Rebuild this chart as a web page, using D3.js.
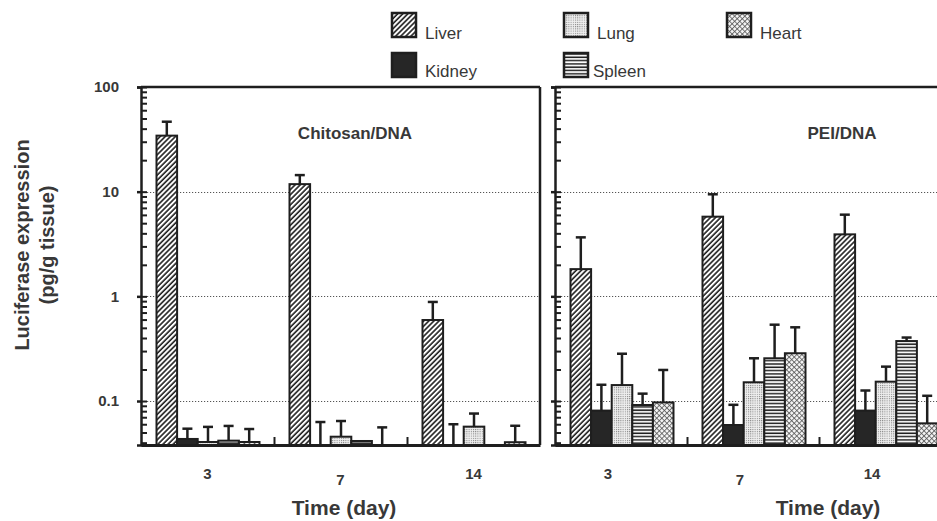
<!DOCTYPE html>
<html lang="en">
<head>
<meta charset="UTF-8">
<title>Luciferase expression</title>
<script src="https://d3js.org/d3.v7.min.js"></script>
<style>
    body { margin: 0; background: #fff; }
    text { font-family: "Liberation Sans", Arial, sans-serif; fill: #383838; }
    .grid { stroke: #555; stroke-dasharray: 1.2, 1.8; stroke-width: 1; }
</style>
</head>
<body>
<div id="graph"></div>
<script>
// ---- data (pg/g tissue), organ order: Liver, Kidney, Lung, Spleen, Heart ----
const days = ["3", "7", "14"];
const organs = ["Liver", "Kidney", "Lung", "Spleen", "Heart"];
const legendRow1 = ["Liver", "Lung", "Heart"];
const legendRow2 = ["Kidney", "Spleen"];
const majorTicks = [0.1, 1, 10, 100];

// Chitosan/DNA
const chiDay3 = [34.3, 0.0434, 0.0406, 0.0418, 0.0406];
const chiDay3Sd = [12.3, 0.011, 0.016, 0.016, 0.0134];
const chiDay7 = [11.8, 0.03, 0.0456, 0.0415, 0.03];
const chiDay7Sd = [2.6, 0.033, 0.0188, 0, 0.026];
const chiDay14 = [0.594, 0.03, 0.0569, 0.03, 0.0404];
const chiDay14Sd = [0.29, 0.030, 0.019, 0, 0.0176];

// PEI/DNA
const peiDay3 = [1.82, 0.081, 0.142, 0.0916, 0.097];
const peiDay3Sd = [1.84, 0.062, 0.141, 0.026, 0.101];
const peiDay7 = [5.77, 0.059, 0.151, 0.256, 0.286];
const peiDay7Sd = [3.67, 0.033, 0.105, 0.28, 0.22];
const peiDay14 = [3.91, 0.081, 0.153, 0.374, 0.0612];
const peiDay14Sd = [2.12, 0.045, 0.06, 0.03, 0.051];

function rows(means, sds) {
    var out = [];
    days.forEach(function (day, i) {
        organs.forEach(function (org, j) {
            out.push({ day: day, organ: org, value: means[i][j], sd: sds[i][j] });
        });
    });
    return out;
}

const panels = [
    { title: "Chitosan/DNA", x0: 141, x1: 540, titleX: 214, labelShift: 0, axisLabelX: 203, border: true,
      data: rows([chiDay3, chiDay7, chiDay14], [chiDay3Sd, chiDay7Sd, chiDay14Sd]) },
    { title: "PEI/DNA", x0: 555, x1: 951, titleX: 287, labelShift: -13, axisLabelX: 273, border: false,
      data: rows([peiDay3, peiDay7, peiDay14], [peiDay3Sd, peiDay7Sd, peiDay14Sd]) }
];

var width = 937, height = 521;
var plotTop = 87, plotBottom = 445;
var ink = "#1e1e1e";

var svg = d3.select("#graph").append("svg")
    .attr("width", width)
    .attr("height", height);

// patterns
var defs = svg.append("defs");
var p = defs.append("pattern").attr("id", "fill-Liver").attr("patternUnits", "userSpaceOnUse")
    .attr("width", 3.6).attr("height", 3.6).attr("patternTransform", "rotate(45)");
p.append("rect").attr("width", 3.6).attr("height", 3.6).attr("fill", "#fff");
p.append("line").attr("x1", 1).attr("x2", 1).attr("y1", 0).attr("y2", 3.6).attr("stroke", ink).attr("stroke-width", 1.6);

p = defs.append("pattern").attr("id", "fill-Lung").attr("patternUnits", "userSpaceOnUse")
    .attr("width", 2.2).attr("height", 2.2);
p.append("rect").attr("width", 2.2).attr("height", 2.2).attr("fill", "#efefef");
p.append("rect").attr("width", 1).attr("height", 1).attr("fill", "#7a7a7a");

p = defs.append("pattern").attr("id", "fill-Spleen").attr("patternUnits", "userSpaceOnUse")
    .attr("width", 4).attr("height", 3.3);
p.append("rect").attr("width", 4).attr("height", 3.3).attr("fill", "#fff");
p.append("line").attr("x1", 0).attr("x2", 4).attr("y1", 1).attr("y2", 1).attr("stroke", ink).attr("stroke-width", 1.5);

p = defs.append("pattern").attr("id", "fill-Heart").attr("patternUnits", "userSpaceOnUse")
    .attr("width", 3.6).attr("height", 3.6).attr("patternTransform", "rotate(45)");
p.append("rect").attr("width", 3.6).attr("height", 3.6).attr("fill", "#f6f6f6");
p.append("line").attr("x1", 0.5).attr("x2", 0.5).attr("y1", 0).attr("y2", 3.6).attr("stroke", "#555").attr("stroke-width", 0.8);
p.append("line").attr("x1", 0).attr("x2", 3.6).attr("y1", 0.5).attr("y2", 0.5).attr("stroke", "#555").attr("stroke-width", 0.8);

function fillOf(org) {
    return org == "Kidney" ? "#262626" : "url(#fill-" + org + ")";
}

var y = d3.scaleLog().domain([0.038, 100]).range([plotBottom, plotTop]).clamp(true);

// all ticks between decades for the inner minor ticks
var allTicks = [];
[0.01, 0.1, 1, 10].forEach(function (dec) {
    for (let k = 1; k < 10; k++) {
        var v = dec * k;
        if (v >= 0.038 && v <= 100) allTicks.push(v);
    }
});
allTicks.push(100);

panels.forEach(function (pan, pi) {
    var x = d3.scaleBand().domain(days).range([pan.x0, pan.x1]);
    var xi = d3.scaleBand().domain(organs).range([15.5, 118.5]);
    var g = svg.append("g");

    // dotted grid
    g.selectAll(".grid").data([0.1, 1, 10]).enter().append("line")
        .attr("class", "grid")
        .attr("x1", pan.x0).attr("x2", pan.x1)
        .attr("y1", d => Math.round(y(d)) + 0.5).attr("y2", d => Math.round(y(d)) + 0.5);

    // bars
    g.selectAll("rect.bar").data(pan.data).enter().append("rect")
        .attr("class", "bar")
        .attr("x", d => x(d.day) + xi(d.organ))
        .attr("width", xi.bandwidth())
        .attr("y", d => y(d.value))
        .attr("height", d => plotBottom - y(d.value))
        .attr("fill", d => fillOf(d.organ))
        .attr("stroke", ink)
        .attr("stroke-width", 2);

    // error bars
    var eb = g.selectAll("g.err").data(pan.data.filter(d => d.sd > 0)).enter().append("g")
        .attr("class", "err");
    eb.append("line")
        .attr("x1", d => x(d.day) + xi(d.organ) + xi.bandwidth() / 2)
        .attr("x2", d => x(d.day) + xi(d.organ) + xi.bandwidth() / 2)
        .attr("y1", d => y(d.value))
        .attr("y2", d => y(d.value + d.sd))
        .attr("stroke", ink).attr("stroke-width", 2.5);
    eb.append("line")
        .attr("x1", d => x(d.day) + xi(d.organ) + xi.bandwidth() / 2 - 5)
        .attr("x2", d => x(d.day) + xi(d.organ) + xi.bandwidth() / 2 + 5)
        .attr("y1", d => y(d.value + d.sd))
        .attr("y2", d => y(d.value + d.sd))
        .attr("stroke", ink).attr("stroke-width", 2.5);

    // y axis: majors outward with labels, all ticks inward
    var yl = d3.axisLeft(y).tickValues(majorTicks).tickSize(4).tickSizeOuter(4).tickPadding(18)
        .tickFormat(pi == 0 ? d3.format("~g") : "");
    var ya = g.append("g").attr("transform", "translate(" + pan.x0 + ",0)").call(yl);
    ya.selectAll("text").style("font-size", "15px").style("font-weight", "bold").attr("fill", "#383838");
    ya.selectAll("line, path").attr("stroke", ink).attr("stroke-width", 2.5);
    var yr = d3.axisRight(y).tickValues(allTicks).tickSize(6).tickFormat("");
    var yb = g.append("g").attr("transform", "translate(" + pan.x0 + ",0)").call(yr);
    yb.select(".domain").remove();
    yb.selectAll("line").attr("stroke", ink).attr("stroke-width", 2);

    // x axis: boundary ticks pointing up, labels below
    var xa = d3.axisTop(d3.scaleLinear().domain([0, days.length]).range([pan.x0, pan.x1]))
        .tickValues(d3.range(1, days.length)).tickSize(8).tickSizeOuter(0).tickFormat("");
    var xg = g.append("g").attr("transform", "translate(0," + plotBottom + ")").call(xa);
    xg.selectAll("line").attr("stroke", ink).attr("stroke-width", 2);
    xg.select(".domain").attr("stroke", ink).attr("stroke-width", 3);

    g.selectAll("text.day").data(days).enter().append("text")
        .attr("class", "day")
        .attr("x", d => x(d) + x.bandwidth() / 2 + pan.labelShift)
        .attr("y", d => d == "7" ? 485 : 479)
        .attr("text-anchor", "middle")
        .style("font-size", "15px").style("font-weight", "bold")
        .text(d => d);

    // frame
    g.append("line").attr("x1", pan.x0).attr("x2", pan.x1).attr("y1", plotTop).attr("y2", plotTop)
        .attr("stroke", ink).attr("stroke-width", 2.5);
    if (pan.border) {
        g.append("line").attr("x1", pan.x1).attr("x2", pan.x1).attr("y1", plotTop).attr("y2", plotBottom)
            .attr("stroke", ink).attr("stroke-width", 2.5);
    }

    g.append("text")
        .attr("x", pan.x0 + pan.titleX).attr("y", 139)
        .attr("text-anchor", "middle")
        .style("font-size", "17px").style("font-weight", "bold")
        .text(pan.title);

    g.append("text")
        .attr("x", pan.x0 + pan.axisLabelX).attr("y", 515)
        .attr("text-anchor", "middle")
        .style("font-size", "21px").style("font-weight", "bold")
        .text("Time (day)");
});

// y axis title
var yt = svg.append("text")
    .attr("transform", "translate(29,245) rotate(-90)")
    .attr("text-anchor", "middle")
    .style("font-size", "20px").style("font-weight", "bold");
yt.append("tspan").attr("x", 0).attr("y", 0).text("Luciferase expression");
yt.append("tspan").attr("x", 0).attr("y", 25).text("(pg/g tissue)");

// legend
var legCol = d3.scaleOrdinal().domain([0, 1, 2]).range([392, 564, 727]);
var legItems = legendRow1.map((d, i) => ({ organ: d, col: i, row: 0 }))
    .concat(legendRow2.map((d, i) => ({ organ: d, col: i, row: 1 })));
var leg = svg.selectAll("g.leg").data(legItems).enter().append("g")
    .attr("class", "leg")
    .attr("transform", d => "translate(" + legCol(d.col) + "," + (d.row ? 53 : 13) + ")");
leg.append("rect")
    .attr("width", 24).attr("height", 24)
    .attr("fill", d => fillOf(d.organ))
    .attr("stroke", ink).attr("stroke-width", 2.5);
leg.append("text")
    .attr("x", d => d.organ == "Spleen" ? 29 : 33)
    .attr("y", d => d.row ? 24 : 26)
    .style("font-size", "17px")
    .text(d => d.organ);
</script>
</body>
</html>
